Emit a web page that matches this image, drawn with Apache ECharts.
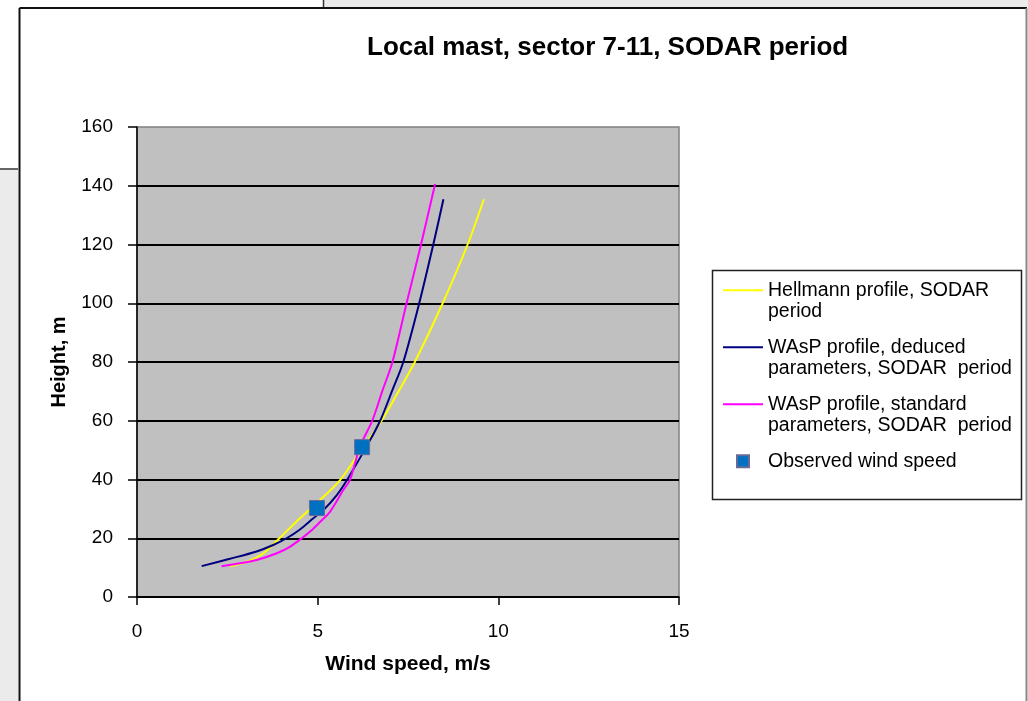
<!DOCTYPE html>
<html>
<head>
<meta charset="utf-8">
<script src="https://cdn.jsdelivr.net/npm/echarts@6/dist/echarts.min.js"></script>
<style>
html,body{margin:0;padding:0;background:#fff;}
#chart{width:1028px;height:701px;}
</style>
</head>
<body>
<div id="chart"></div>
<script>
// ---- data ----
const titleText = 'Local mast, sector 7-11, SODAR period';
const xAxisName = 'Wind speed, m/s';
const yAxisName = 'Height, m';
const xTicks = [0, 5, 10, 15];
const yTicks = [0, 20, 40, 60, 80, 100, 120, 140, 160];

const nameHellmann = 'Hellmann profile, SODAR\nperiod';
const speedHellmann = [2.57, 3.04, 3.50, 3.94, 4.51, 4.97, 5.62, 6.20, 6.77, 7.26, 7.69, 8.46, 9.15, 9.60];
const heightHellmann = [10.5, 12.0, 14.9, 20.0, 26.8, 31.9, 39.8, 50.0, 60.0, 70.5, 80.0, 100.0, 120.0, 135.4];

const nameDeduced = 'WAsP profile, deduced\nparameters, SODAR  period';
const speedDeduced = [1.79, 2.57, 3.31, 3.77, 4.14, 4.51, 4.88, 5.16, 5.53, 5.82, 6.40, 6.73, 7.07, 7.37, 7.81, 8.20, 8.48];
const heightDeduced = [10.5, 13.0, 15.5, 17.7, 20.0, 23.0, 26.8, 29.6, 34.7, 40.0, 52.3, 60.0, 70.5, 80.0, 100.0, 120.0, 135.4];

const nameStandard = 'WAsP profile, standard\nparameters, SODAR  period';
const speedStandard = [2.34, 2.85, 3.31, 3.87, 4.23, 4.56, 4.84, 5.07, 5.34, 5.71, 5.90, 6.17, 6.51, 6.80, 7.07, 7.46, 7.86, 8.25];
const heightStandard = [10.5, 11.5, 12.6, 14.9, 17.1, 20.0, 22.8, 25.6, 29.0, 36.4, 40.0, 51.2, 60.0, 70.5, 80.0, 100.0, 120.0, 140.6];

const nameObserved = 'Observed wind speed';
const speedObserved = [4.98, 6.23];
const heightObserved = [30.3, 51.0];

// ---- helpers ----
function zip(xs, ys) { return xs.map((x, i) => [x, ys[i]]); }
const FONT = '"Liberation Sans", Arial, sans-serif';
const LINE_ICON = 'path://M0,0L40,0L40,2L0,2Z';
const SQUARE_ICON = 'path://M0,0L12,0L12,12L0,12Z';

const chart = echarts.init(document.getElementById('chart'), null, {renderer: 'canvas'});

const option = {
  animation: false,
  backgroundColor: '#ffffff',
  title: {
    text: titleText,
    left: 367,
    top: 35,
    padding: 0,
    textStyle: {fontFamily: FONT, fontSize: 26, fontWeight: 'bold', color: '#000'}
  },
  grid: {
    left: 137, top: 127, right: 349, bottom: 104,
    show: true,
    backgroundColor: '#c0c0c0',
    borderColor: '#808080',
    borderWidth: 1.5
  },
  legend: {
    orient: 'vertical',
    left: 723,
    top: 258,
    padding: 0,
    itemGap: -7.5,
    itemWidth: 40,
    itemHeight: 12,
    symbolKeepAspect: true,
    data: [
      {name: nameHellmann, icon: LINE_ICON},
      {name: nameDeduced, icon: LINE_ICON},
      {name: nameStandard, icon: LINE_ICON},
      {name: nameObserved, icon: SQUARE_ICON}
    ],
    formatter: function (name) {
      return name.indexOf('\n') >= 0 ? '\n' + name : '\n' + name + '\n';
    },
    textStyle: {fontFamily: FONT, fontSize: 19.5, lineHeight: 21.5, color: '#000'}
  },
  xAxis: {
    type: 'value',
    min: xTicks[0],
    max: xTicks[xTicks.length - 1],
    interval: xTicks[1] - xTicks[0],
    name: xAxisName,
    nameLocation: 'middle',
    nameGap: 57,
    nameTextStyle: {fontFamily: FONT, fontSize: 21, fontWeight: 'bold', color: '#000'},
    axisLine: {show: true, onZero: false, lineStyle: {color: '#000', width: 1.5}},
    axisTick: {show: true, inside: false, length: 8, lineStyle: {color: '#000', width: 1.5}},
    axisLabel: {margin: 25, fontFamily: FONT, fontSize: 19, color: '#000'},
    splitLine: {show: false}
  },
  yAxis: {
    type: 'value',
    min: yTicks[0],
    max: yTicks[yTicks.length - 1],
    interval: yTicks[1] - yTicks[0],
    name: yAxisName,
    nameLocation: 'middle',
    nameRotate: 90,
    nameGap: 68,
    nameTextStyle: {fontFamily: FONT, fontSize: 20, fontWeight: 'bold', color: '#000'},
    axisLine: {show: true, onZero: false, lineStyle: {color: '#000', width: 1.5}},
    axisTick: {show: true, inside: false, length: 9, lineStyle: {color: '#000', width: 1.5}},
    axisLabel: {margin: 24, fontFamily: FONT, fontSize: 19, color: '#000'},
    splitLine: {show: true, showMaxLine: false, lineStyle: {color: '#000', width: 2}}
  },
  graphic: [
    {type: 'rect', shape: {x: 0, y: 170, width: 18, height: 540}, style: {fill: '#ebebeb'}, silent: true},
    {type: 'line', shape: {x1: 0, y1: 169, x2: 18, y2: 169}, style: {stroke: '#333', lineWidth: 1.5}, silent: true},
    {type: 'rect', shape: {x: 324, y: 0, width: 704, height: 7}, style: {fill: '#ebebeb'}, silent: true},
    {type: 'line', shape: {x1: 323.5, y1: 0, x2: 323.5, y2: 8}, style: {stroke: '#333', lineWidth: 1.5}, silent: true},
    {type: 'line', shape: {x1: 19.5, y1: 8, x2: 1027, y2: 8}, style: {stroke: '#111', lineWidth: 2}, silent: true},
    {type: 'line', shape: {x1: 19.5, y1: 8, x2: 19.5, y2: 701}, style: {stroke: '#111', lineWidth: 2}, silent: true},
    {type: 'line', shape: {x1: 1026.5, y1: 8, x2: 1026.5, y2: 701}, style: {stroke: '#888', lineWidth: 2}, silent: true},
    {type: 'rect', shape: {x: 712.5, y: 270.5, width: 309, height: 229}, style: {fill: null, stroke: '#222', lineWidth: 1.5}, silent: true, z: -1}
  ],
  series: [
    {
      name: nameHellmann, type: 'line', data: zip(speedHellmann, heightHellmann),
      smooth: 0.3, showSymbol: false, symbol: 'none',
      lineStyle: {color: '#ffff00', width: 2}, itemStyle: {color: '#ffff00'}
    },
    {
      name: nameDeduced, type: 'line', data: zip(speedDeduced, heightDeduced),
      smooth: 0.3, showSymbol: false, symbol: 'none',
      lineStyle: {color: '#000080', width: 2}, itemStyle: {color: '#000080'}
    },
    {
      name: nameStandard, type: 'line', data: zip(speedStandard, heightStandard),
      smooth: 0.3, showSymbol: false, symbol: 'none',
      lineStyle: {color: '#ff00ff', width: 2}, itemStyle: {color: '#ff00ff'}
    },
    {
      name: nameObserved, type: 'scatter', data: zip(speedObserved, heightObserved),
      symbol: 'rect', symbolSize: 15,
      itemStyle: {color: '#0070c0', borderColor: '#6a6a9a', borderWidth: 1, opacity: 1},
      z: 5
    }
  ]
};
chart.setOption(option);
</script>
</body>
</html>
